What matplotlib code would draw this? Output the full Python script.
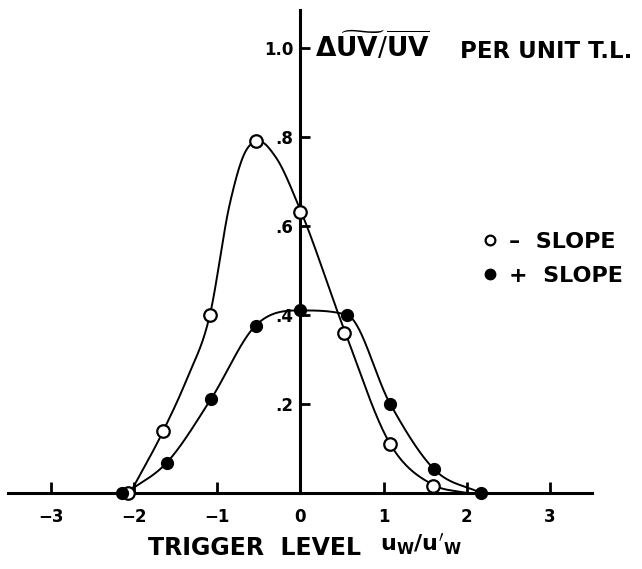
import numpy as np
import matplotlib
matplotlib.use("Agg")
import matplotlib.pyplot as plt

# ---- data ----
neg_x = [-2.08, -1.65, -1.09, -0.53, 0.0, 0.52, 1.08, 1.60]
neg_y = [0.0, 0.14, 0.40, 0.79, 0.63, 0.36, 0.11, 0.015]
pos_x = [-2.15, -1.61, -1.08, -0.54, 0.0, 0.56, 1.08, 1.61, 2.17]
pos_y = [0.0, 0.068, 0.21, 0.376, 0.41, 0.40, 0.20, 0.053, 0.0]

# hand-drawn curve traces
neg_curve_x = [-2.05, -1.65, -1.37, -1.09, -0.85, -0.68, -0.50, -0.30, 0.0, 0.52, 1.08, 1.60, 2.0]
neg_curve_y = [0.0, 0.14, 0.255, 0.40, 0.65, 0.76, 0.79, 0.755, 0.635, 0.37, 0.11, 0.018, 0.0]
pos_curve_x = [-2.10, -1.61, -1.08, -0.54, 0.0, 0.56, 1.08, 1.61, 2.17]
pos_curve_y = [0.0, 0.068, 0.21, 0.376, 0.41, 0.40, 0.20, 0.053, 0.0]

x_ticks = [-3, -2, -1, 0, 1, 2, 3]
x_tick_labels = ["\u22123", "\u22122", "\u22121", "0", "1", "2", "3"]
y_ticks = [0.2, 0.4, 0.6, 0.8, 1.0]
y_tick_labels = [".2", ".4", ".6", ".8", "1.0"]


def smooth_curve(x, y, n=600):
    """Monotone cubic Hermite (Fritsch-Carlson) rendering of a traced curve."""
    x = np.asarray(x, float); y = np.asarray(y, float)
    h = np.diff(x); d = np.diff(y) / h
    m = np.empty_like(y)
    m[0] = d[0]; m[-1] = d[-1]
    m[1:-1] = (d[:-1] * h[1:] + d[1:] * h[:-1]) / (h[:-1] + h[1:])
    for k in range(len(d)):
        if d[k] == 0:
            m[k] = m[k + 1] = 0
            continue
        if k > 0 and d[k - 1] * d[k] <= 0:
            m[k] = 0
        a = m[k] / d[k]; b = m[k + 1] / d[k]
        if a < 0: m[k] = 0; a = 0
        if b < 0: m[k + 1] = 0; b = 0
        s = a * a + b * b
        if s > 9:
            t = 3 / np.sqrt(s)
            m[k] = t * a * d[k]; m[k + 1] = t * b * d[k]
    xs = np.linspace(x[0], x[-1], n)
    idx = np.clip(np.searchsorted(x, xs) - 1, 0, len(h) - 1)
    t = (xs - x[idx]) / h[idx]
    h00 = 2 * t**3 - 3 * t**2 + 1; h10 = t**3 - 2 * t**2 + t
    h01 = -2 * t**3 + 3 * t**2; h11 = t**3 - t**2
    ys = h00 * y[idx] + h10 * h[idx] * m[idx] + h01 * y[idx + 1] + h11 * h[idx] * m[idx + 1]
    return xs, ys


W, H = 642, 569
fig = plt.figure(figsize=(6.42, 5.69), dpi=100)
ax = fig.add_axes([0.0125, 0.1336, 0.9097, 0.849])
ax.set_xlim(-3.52, 3.51)
ax.set_ylim(0, 1.085)

for s in ["top", "right"]:
    ax.spines[s].set_visible(False)
ax.spines["left"].set_position(("data", 0))
ax.spines["bottom"].set_position(("data", 0))
ax.spines["left"].set_linewidth(2.2)
ax.spines["bottom"].set_linewidth(2.2)

# curves
cx, cy = smooth_curve(neg_curve_x, neg_curve_y)
ax.plot(cx, cy, color="black", lw=1.4, zorder=3)
cx2, cy2 = smooth_curve(pos_curve_x, pos_curve_y)
ax.plot(cx2, cy2, color="black", lw=1.4, zorder=3)

ax.plot(neg_x, neg_y, "o", ms=9, mfc="white", mec="black", mew=1.6, zorder=5,
        label="\u2013  SLOPE", clip_on=False)
ax.plot(pos_x, pos_y, "o", ms=8.5, mfc="black", mec="black", zorder=6,
        label="+  SLOPE", clip_on=False)

ax.set_xticks(x_ticks)
ax.set_xticklabels(x_tick_labels, fontsize=12, fontweight="bold")
ax.set_yticks(y_ticks)
ax.set_yticklabels(y_tick_labels, fontsize=12, fontweight="bold")
ax.tick_params(axis="x", direction="in", length=8, width=2, pad=11)
ax.tick_params(axis="y", direction="in", length=7, width=2, pad=5)

# y-axis title (two parts)
fig.text(315 / W, 1 - 47 / H,
         r"$\mathbf{\Delta}\widetilde{\mathbf{UV}}/\overline{\mathbf{UV}}$",
         fontsize=19, fontweight="bold", va="center", ha="left")
fig.text(460 / W, 1 - 52 / H, "PER UNIT T.L.",
         fontsize=16.5, fontweight="bold", va="center", ha="left")

# x-axis title
fig.text(148 / W, 1 - 555 / H, "TRIGGER  LEVEL", fontsize=17,
         fontweight="bold", ha="left", va="baseline")
fig.text(380 / W, 1 - 551 / H, r"$\mathbf{u_W/u'_W}$", fontsize=16,
         ha="left", va="baseline")

leg = ax.legend(loc="center left", bbox_to_anchor=(0.0, 0.5), frameon=False,
                handlelength=0.6, handletextpad=0.55, borderpad=0, borderaxespad=0,
                labelspacing=0.65, prop={"weight": "bold", "size": 16})
leg.set_bbox_to_anchor((483 / W, 1 - 259 / H), transform=fig.transFigure)
leg.legend_handles[0].set_markersize(7)
leg.legend_handles[1].set_markersize(7.5)

fig.savefig("out.png", dpi=100)
